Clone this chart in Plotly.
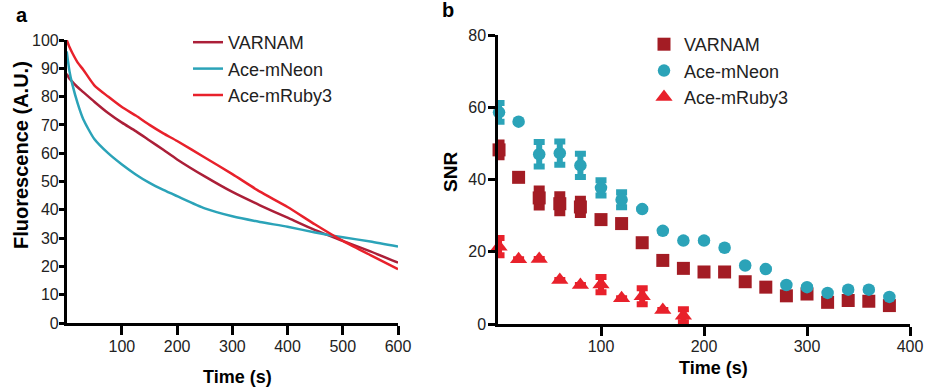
import plotly.graph_objects as go

# ---------------- Panel a: fluorescence decay ----------------
fl_time = [0, 5, 10, 20, 30, 50, 75, 100, 125, 150, 175, 200, 250, 300, 350, 400, 450, 500, 550, 600]
fl_varnam = [88, 86.3, 85.3, 83.3, 81.6, 78.2, 74.2, 70.8, 67.8, 64.5, 61.2, 57.8, 51.8, 46.3, 41.6, 37.2, 32.8, 29.0, 25.3, 21.3]
fl_neon = [96, 89, 84.5, 77.5, 72, 65, 60, 56, 52.5, 49.5, 47, 44.8, 40.5, 37.7, 35.7, 34, 32, 30.3, 28.8, 27]
fl_ruby = [100, 97.5, 95.5, 92, 89.5, 84, 80, 76.3, 73.3, 70, 67, 64.3, 58.5, 52.6, 46.4, 41, 34.8, 29, 24, 19]

# ---------------- Panel b: SNR ----------------
snr_time = [1, 20, 40, 60, 80, 100, 120, 140, 160, 180, 200, 220, 240, 260, 280, 300, 320, 340, 360, 380]
varnam_snr = [48.2, 40.6, 34.9, 33.3, 32.4, 28.9, 27.8, 22.5, 17.6, 15.4, 14.4, 14.4, 11.7, 10.2, 7.8, 8.3, 6.0, 6.5, 6.3, 5.1]
varnam_err = [1.9, 0, 2.5, 2.5, 2.1, 0, 0, 0, 0, 0, 0, 0, 0, 0, 0, 0, 0, 0, 0, 0]
neon_snr = [58.6, 56.0, 47.0, 47.3, 43.9, 37.7, 34.4, 31.8, 25.8, 23.1, 23.1, 21.1, 16.2, 15.2, 10.8, 10.2, 8.6, 9.5, 9.5, 7.5]
neon_err = [2.6, 0, 3.4, 3.2, 3.2, 2.1, 2.1, 0, 0, 0, 0, 0, 0, 0, 0, 0, 0, 0, 0, 0]
ruby_time = [1, 20, 40, 60, 80, 100, 120, 140, 160, 180]
ruby_snr = [21.4, 17.9, 18.0, 12.2, 10.8, 10.9, 7.1, 7.7, 3.9, 2.3]
ruby_err = [2.4, 0, 0, 0, 0, 2.1, 0, 2.2, 0, 1.8]

series_names = ["VARNAM", "Ace-mNeon", "Ace-mRuby3"]
x_ticks_a = [100, 200, 300, 400, 500, 600]
y_ticks_a = [0, 10, 20, 30, 40, 50, 60, 70, 80, 90, 100]
x_ticks_b = [100, 200, 300, 400]
y_ticks_b = [0, 20, 40, 60, 80]

C_VARNAM_LINE = "#AB1F38"
C_VARNAM_MK = "#A31C24"
C_NEON = "#2BA3B8"
C_RUBY = "#E8212B"
FONT = "Liberation Sans, Arial, sans-serif"
W, H = 925, 391

fig = go.Figure()

line_specs = [(fl_varnam, C_VARNAM_LINE), (fl_neon, C_NEON), (fl_ruby, C_RUBY)]
for name, (vals, col) in zip(series_names, line_specs):
    fig.add_trace(go.Scatter(
        x=fl_time, y=vals, mode="lines", name=name,
        line=dict(color=col, width=2.5, shape="spline", smoothing=0.6),
        xaxis="x", yaxis="y", legend="legend", cliponaxis=False))

mk_specs = [
    (snr_time, varnam_snr, varnam_err, C_VARNAM_MK, "square", 13, 7),
    (snr_time, neon_snr, neon_err, C_NEON, "circle", 12.5, 6),
    (ruby_time, ruby_snr, ruby_err, C_RUBY, "triangle-up", 15, 6),
]
for name, (xs, ys, es, col, sym, sz, th) in zip(series_names, mk_specs):
    fig.add_trace(go.Scatter(
        x=xs, y=ys, mode="markers", name=name,
        marker=dict(symbol=sym, size=sz, color=col, line=dict(width=0)),
        error_y=dict(type="data", array=es, visible=True, color=col, thickness=th, width=5.5),
        xaxis="x2", yaxis="y2", legend="legend2", cliponaxis=False))

axis_common = dict(
    showgrid=False, zeroline=False, showline=True, linecolor="black", linewidth=2.5,
    ticks="outside", tickwidth=2.5, tickcolor="black",
    tickfont=dict(family=FONT, size=16, color="#222222"), automargin=False,
    ticklabeloverflow="allow", fixedrange=True,
)

def ann(text, x, y, size, angle=0):
    return dict(text=text, x=x / W, y=1 - y / H, xref="paper", yref="paper",
                xanchor="center", yanchor="middle", showarrow=False, textangle=angle,
                font=dict(family=FONT, size=size, color="black"))

fig.update_layout(
    width=W, height=H,
    margin=dict(l=0, r=0, t=0, b=0),
    paper_bgcolor="white", plot_bgcolor="white",
    font=dict(family=FONT, color="black"),
    xaxis=dict(axis_common, domain=[66.7 / W, 398 / W], range=[0, 600], tickvals=x_ticks_a,
               anchor="y", ticklen=9, ticklabelstandoff=-2),
    yaxis=dict(axis_common, domain=[1 - 323 / H, 1 - 40 / H], range=[0, 100], tickvals=y_ticks_a,
               anchor="x", ticklen=5, ticklabelstandoff=-3),
    xaxis2=dict(axis_common, domain=[498 / W, 910 / W], range=[0, 400], tickvals=x_ticks_b,
                anchor="y2", ticklen=9, ticklabelstandoff=-3),
    yaxis2=dict(axis_common, domain=[1 - 324 / H, 1 - 35 / H], range=[0, 80], tickvals=y_ticks_b,
                anchor="x2", ticklen=7, ticklabelstandoff=-1),
    legend=dict(x=188 / W, y=1 - 24 / H, xanchor="left", yanchor="top",
                font=dict(family=FONT, size=18, color="#222222"), bgcolor="rgba(0,0,0,0)",
                tracegroupgap=0),
    legend2=dict(x=644 / W, y=1 - 26 / H, xanchor="left", yanchor="top",
                 font=dict(family=FONT, size=18, color="#222222"), bgcolor="rgba(0,0,0,0)",
                 tracegroupgap=0),
    showlegend=True,
    annotations=[
        ann("<b>a</b>", 22, 15, 20),
        ann("<b>b</b>", 448, 10, 20),
        ann("<b>Time (s)</b>", 237, 377, 18),
        ann("<b>Time (s)</b>", 713, 368, 18),
        ann("<b>Fluorescence (A.U.)</b>", 21, 155, 20, -90),
        ann("<b>SNR</b>", 450, 172, 19, -90),
    ],
)

fig.write_html("out.html", config={"displayModeBar": False},
               post_script="document.body.style.margin='0';document.body.style.padding='0';")
